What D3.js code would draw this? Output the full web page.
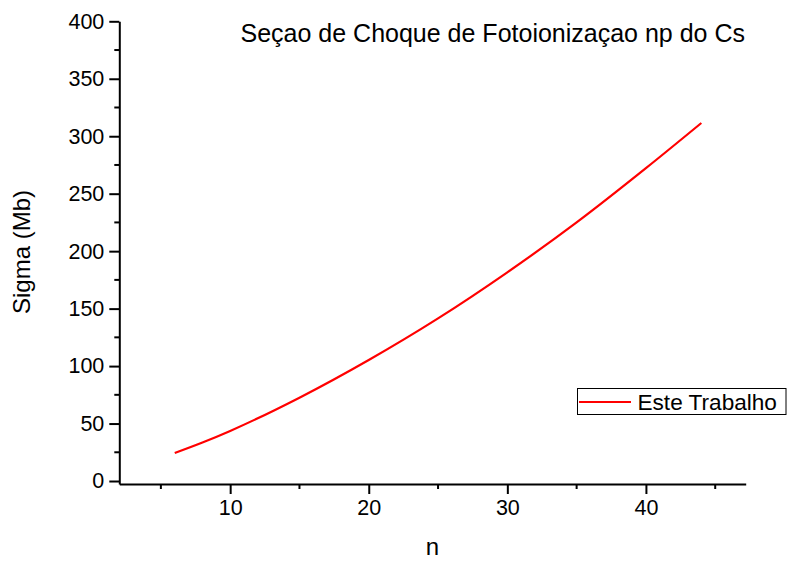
<!DOCTYPE html>
<html>
<head>
<meta charset="utf-8">
<script src="https://cdn.jsdelivr.net/npm/d3@7"></script>
<style>
  html, body { margin: 0; padding: 0; background: #fff; }
  svg { display: block; font-family: "Liberation Sans", Arial, sans-serif; }
</style>
</head>
<body>
<svg id="chart" width="788" height="563"></svg>
<script>
// Photoionization cross section of Cs np states versus principal quantum number n
const nValues = [6, 8, 10, 15, 20, 25, 30, 35, 40, 44];
const sigmaValues = [24.4, 33.5, 43.6, 72.5, 105.3, 141.5, 181.6, 225.0, 272.2, 311.5];
const xTicks = [10, 20, 30, 40];
const yTicks = [0, 50, 100, 150, 200, 250, 300, 350, 400];
const xMinor = [5, 15, 25, 35, 45];
const yMinor = [25, 75, 125, 175, 225, 275, 325, 375];
const seriesName = "Este Trabalho";
const titleText = "Seçao de Choque de Fotoionizaçao np do Cs";

const svg = d3.select("#chart");
const x = d3.scaleLinear().domain([2, 47.2]).range([119.3, 745.7]);
const y = d3.scaleLinear().domain([-2.6, 400]).range([484, 21.3]);

// axes
const xAxis = svg.append("g").attr("transform", `translate(0,${y.range()[0]})`)
  .call(d3.axisBottom(x).tickValues(xTicks).tickSize(10).tickPadding(6).tickSizeOuter(0));
const yAxis = svg.append("g").attr("transform", `translate(${x.range()[0]},0)`)
  .call(d3.axisLeft(y).tickValues(yTicks).tickSize(10).tickPadding(5).tickSizeOuter(0));

[xAxis, yAxis].forEach(g => {
  g.select(".domain").attr("stroke", "#000").attr("stroke-width", 2);
  g.selectAll(".tick line").attr("stroke", "#000").attr("stroke-width", 2);
  g.selectAll(".tick text").attr("fill", "#000").style("font-size", "21.5px")
    .style("font-family", "'Liberation Sans', Arial, sans-serif");
});

// minor ticks
xAxis.selectAll(".minor").data(xMinor).enter().append("line")
  .attr("x1", d => x(d)).attr("x2", d => x(d))
  .attr("y1", 0).attr("y2", 5)
  .attr("stroke", "#000").attr("stroke-width", 2);
yAxis.selectAll(".minor").data(yMinor).enter().append("line")
  .attr("y1", d => y(d)).attr("y2", d => y(d))
  .attr("x1", 0).attr("x2", -5)
  .attr("stroke", "#000").attr("stroke-width", 2);

// curve
const data = nValues.map((n, i) => ({ n, s: sigmaValues[i] }));
svg.append("path").datum(data)
  .attr("fill", "none").attr("stroke", "#ff0000").attr("stroke-width", 2.2)
  .attr("d", d3.line().x(d => x(d.n)).y(d => y(d.s)).curve(d3.curveMonotoneX));

// axis titles
svg.append("text").attr("x", 432.5).attr("y", 555).attr("text-anchor", "middle")
  .style("font-size", "24px").text("n");
svg.append("text").attr("transform", "translate(29.5,252) rotate(-90)")
  .attr("text-anchor", "middle").style("font-size", "24px").text("Sigma (Mb)");

// title
svg.append("text").attr("x", 240.5).attr("y", 42).style("font-size", "25px").text(titleText);

// legend
const leg = svg.append("g");
leg.append("rect").attr("x", 577.5).attr("y", 388.5).attr("width", 208.5).attr("height", 26)
  .attr("fill", "#fff").attr("stroke", "#000").attr("stroke-width", 1);
leg.append("line").attr("x1", 579).attr("x2", 631).attr("y1", 402).attr("y2", 402)
  .attr("stroke", "#ff0000").attr("stroke-width", 2.2);
leg.append("text").attr("x", 637.5).attr("y", 410).style("font-size", "22.6px").text(seriesName);
</script>
</body>
</html>
